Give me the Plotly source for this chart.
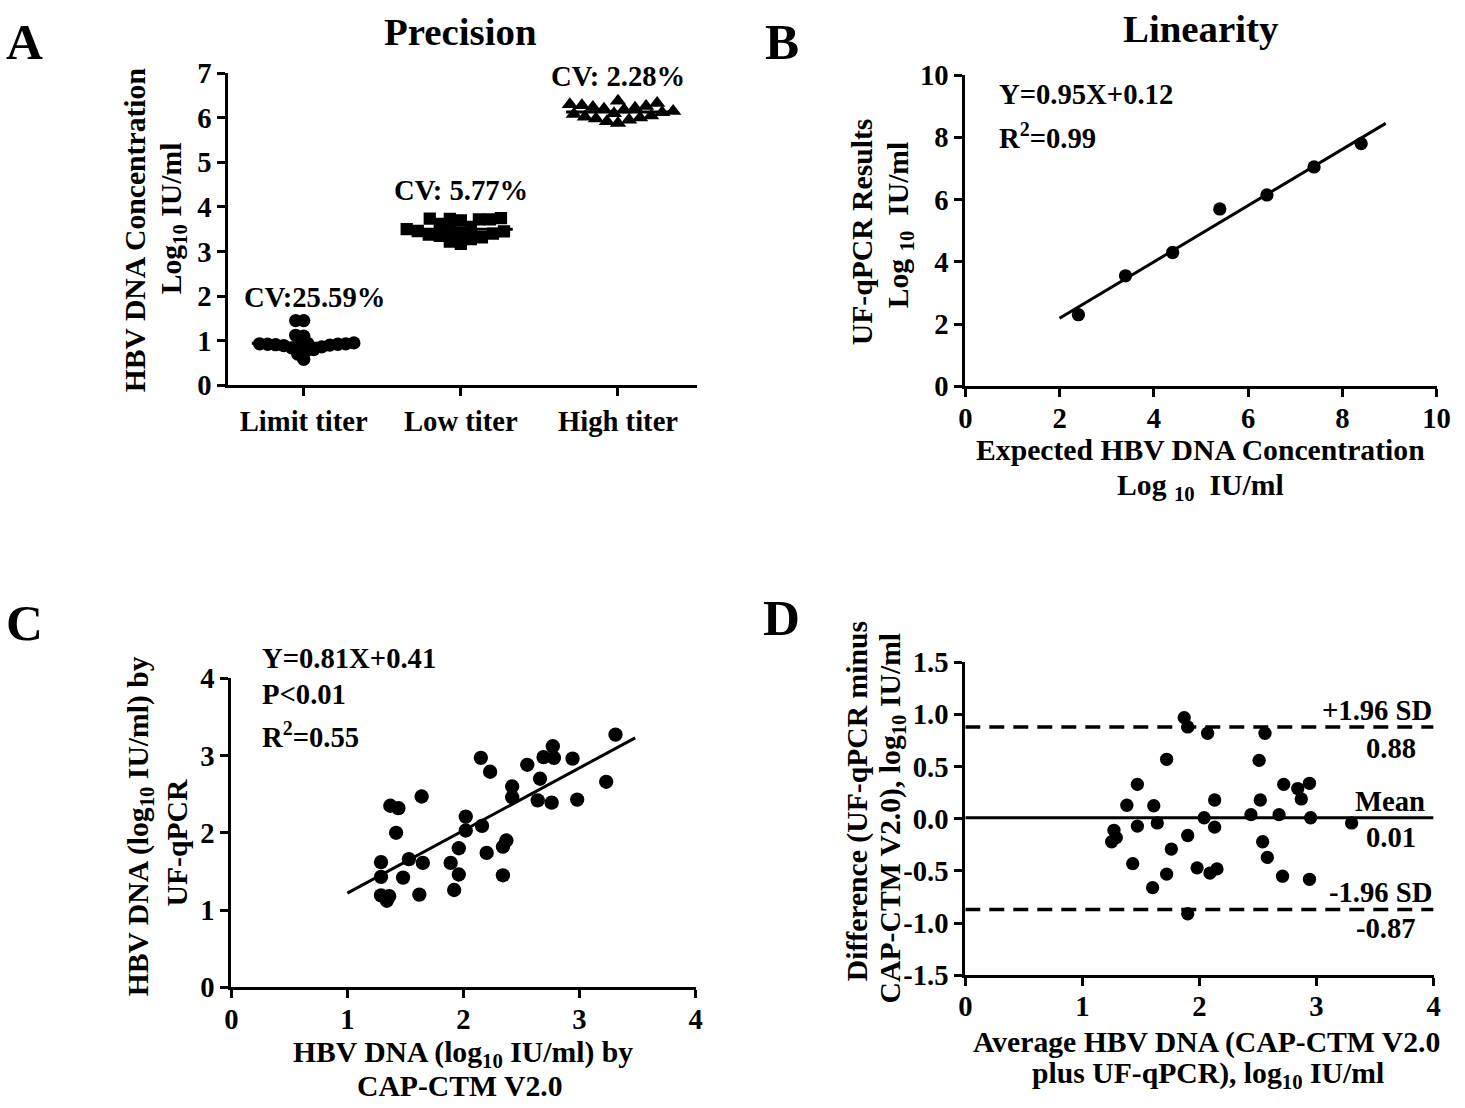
import numpy as np
import plotly.graph_objects as go

W, H = 1465, 1108
FONT = "Liberation Serif"
# measured mapping of the page into the final picture (picture = T + S * page)
TX, TY = 7.3, 15.8
SX, SY = 0.983, 0.971
K = 1 / 0.977  # size compensation for text/markers

# ---------------- Data ----------------
# Panel A: precision
categories = ["Limit titer", "Low titer", "High titer"]
limit_titer = [1.45, 1.45, 1.12, 1.10, 0.95, 0.94, 0.93, 0.93, 0.92, 0.92,
               0.91, 0.90, 0.89, 0.88, 0.86, 0.84, 0.80, 0.76, 0.70, 0.58]
low_titer = [3.75, 3.74, 3.73, 3.72, 3.72, 3.70, 3.62, 3.55, 3.50, 3.48,
             3.46, 3.45, 3.43, 3.40, 3.38, 3.35, 3.32, 3.28, 3.22, 3.17]
high_titer = [6.38, 6.33, 6.30, 6.28, 6.26, 6.24, 6.22, 6.20, 6.18, 6.15,
              6.12, 6.10, 6.08, 6.05, 6.02, 6.00, 5.98, 5.95, 5.92, 5.88]
cv_labels = ["CV:25.59%", "CV: 5.77%", "CV: 2.28%"]

# Panel B: linearity
expected_conc = [2.4, 3.4, 4.4, 5.4, 6.4, 7.4, 8.4]
ufqpcr_result = [2.30, 3.55, 4.30, 5.70, 6.15, 7.05, 7.80]
lin_eq = "Y=0.95X+0.12"
lin_r2 = "0.99"

# Panel C: correlation
cap_ctm = [3.31, 3.23, 2.77, 2.69, 2.78, 2.94, 2.55, 2.66, 2.64, 2.76, 2.98, 2.42, 2.42,
           2.15, 2.23, 1.64, 1.37, 1.44, 1.42, 2.02, 2.02, 2.16, 2.37, 2.34, 1.96, 2.20,
           2.34, 1.96, 1.89, 1.92, 1.53, 1.65, 1.29, 1.29, 1.48, 1.62, 1.29, 1.36, 1.34]
uf_qpcr = [3.27, 2.66, 3.12, 2.98, 2.97, 2.96, 2.88, 2.70, 2.42, 2.39, 2.43, 2.60, 2.46,
           2.97, 2.79, 2.47, 2.35, 2.32, 2.00, 2.21, 2.03, 2.09, 1.90, 1.82, 1.80, 1.74,
           1.45, 1.46, 1.61, 1.26, 1.66, 1.61, 1.62, 1.43, 1.42, 1.20, 1.19, 1.18, 1.12]
corr_slope, corr_intercept = 0.81, 0.41
corr_xrange = [1.0, 3.48]

# Panel D: Bland-Altman
ba_average = [1.87, 1.90, 2.07, 2.56, 1.72, 2.51, 1.47, 2.72, 2.94, 2.84, 2.87, 2.52, 2.13,
              1.38, 1.61, 2.44, 2.68, 2.04, 2.95, 3.30, 1.64, 1.47, 2.13, 1.27, 1.29, 1.25,
              1.90, 2.54, 1.76, 2.58, 1.43, 1.98, 2.09, 2.15, 1.72, 2.71, 2.94, 1.60, 1.90]
ba_difference = [0.97, 0.88, 0.82, 0.82, 0.57, 0.56, 0.33, 0.33, 0.34, 0.29, 0.19, 0.18, 0.18,
                 0.13, 0.125, 0.04, 0.04, 0.01, 0.01, -0.04, -0.04, -0.07, -0.08, -0.11, -0.18,
                 -0.22, -0.16, -0.22, -0.29, -0.37, -0.43, -0.47, -0.52, -0.48, -0.53, -0.55,
                 -0.58, -0.66, -0.91]
ba_mean, ba_upper, ba_lower = 0.01, 0.88, -0.87

# ---------------- Geometry (target picture pixels) ----------------
A_box = dict(x0=228, x1=695, yb=385, yt=73, xr=[-0.48, 2.5], yr=[0, 7])
B_box = dict(x0=963, x1=1433, yb=386, yt=75, xr=[0, 10], yr=[0, 10])
C_box = dict(x0=231, x1=694, yb=987, yt=678, xr=[0, 4], yr=[0, 4])
D_box = dict(x0=963, x1=1430, yb=975, yt=662, xr=[0, 4], yr=[-1.5, 1.5])


def px(x):
    return ((x - TX) / SX) / W


def py(y):
    return 1 - ((y - TY) / SY) / H


def sz(v):
    return v * K


def tfont(size=28):
    return dict(family=FONT, size=sz(size), color="black", weight="bold")


def axis_common():
    return dict(showline=True, linecolor="black", linewidth=3, ticks="outside",
                ticklen=8, tickwidth=3, tickcolor="black", showgrid=False,
                zeroline=False, tickfont=tfont(28), fixedrange=True)


def swarm_offsets(values, px_per_x, px_per_y, dist):
    vals = np.asarray(values, float)
    order = np.argsort(vals, kind="stable")
    placed = []
    offs = np.zeros(len(vals))
    side = 1
    for i in order:
        yp = vals[i] * px_per_y
        best = None
        for step in range(0, 300):
            cands = [0.0] if step == 0 else [side * step, -side * step]
            for c in cands:
                if all((c - qx) ** 2 + (yp - qy) ** 2 >= dist ** 2 for qx, qy in placed):
                    best = c
                    break
            if best is not None:
                break
        placed.append((best, yp))
        offs[i] = best / px_per_x
        side = -side
    return offs


fig = go.Figure()

# ---------------- Panel A ----------------
ax_ppx = (A_box["x1"] - A_box["x0"]) / (A_box["xr"][1] - A_box["xr"][0])
ax_ppy = (A_box["yb"] - A_box["yt"]) / (A_box["yr"][1] - A_box["yr"][0])
groups = [limit_titer, low_titer, high_titer]
symbols = ["circle", "square", "triangle-up"]
msizes = [13, 12, 14]
spread = [8.0, 11.0, 10.5]
for gi, (vals, sym, ms, dd) in enumerate(zip(groups, symbols, msizes, spread)):
    offs = swarm_offsets(vals, ax_ppx, ax_ppy, dd)
    fig.add_trace(go.Scatter(x=gi + offs, y=vals, mode="markers", xaxis="x", yaxis="y",
                             marker=dict(symbol=sym, size=sz(ms), color="black"),
                             showlegend=False, hoverinfo="skip"))
    m = float(np.mean(vals))
    fig.add_trace(go.Scatter(x=[gi - 0.33, gi + 0.33], y=[m, m], mode="lines",
                             xaxis="x", yaxis="y", line=dict(color="black", width=3),
                             showlegend=False, hoverinfo="skip"))

# ---------------- Panel B ----------------
bslope, bint = np.polyfit(expected_conc, ufqpcr_result, 1)
bx = np.array([2.0, 8.92])
fig.add_trace(go.Scatter(x=bx, y=bslope * bx + bint, mode="lines", xaxis="x2", yaxis="y2",
                         line=dict(color="black", width=3), showlegend=False, hoverinfo="skip"))
fig.add_trace(go.Scatter(x=expected_conc, y=ufqpcr_result, mode="markers", xaxis="x2", yaxis="y2",
                         marker=dict(size=sz(13), color="black"), showlegend=False, hoverinfo="skip"))

# ---------------- Panel C ----------------
cx = np.array(corr_xrange)
fig.add_trace(go.Scatter(x=cx, y=corr_slope * cx + corr_intercept, mode="lines", xaxis="x3", yaxis="y3",
                         line=dict(color="black", width=3), showlegend=False, hoverinfo="skip"))
fig.add_trace(go.Scatter(x=cap_ctm, y=uf_qpcr, mode="markers", xaxis="x3", yaxis="y3",
                         marker=dict(size=sz(14), color="black"), showlegend=False, hoverinfo="skip"))

# ---------------- Panel D ----------------
dx = D_box["xr"]
fig.add_trace(go.Scatter(x=dx, y=[ba_mean, ba_mean], mode="lines", xaxis="x4", yaxis="y4",
                         line=dict(color="black", width=3), showlegend=False, hoverinfo="skip"))
for lv in (ba_upper, ba_lower):
    fig.add_trace(go.Scatter(x=dx, y=[lv, lv], mode="lines", xaxis="x4", yaxis="y4",
                             line=dict(color="black", width=3.5, dash="15px,9px"),
                             showlegend=False, hoverinfo="skip"))
fig.add_trace(go.Scatter(x=ba_average, y=ba_difference, mode="markers", xaxis="x4", yaxis="y4",
                         marker=dict(size=sz(13), color="black"), showlegend=False, hoverinfo="skip"))


# ---------------- Axes ----------------
def set_axes(xname, yname, box, xextra, yextra):
    xa = axis_common()
    xa.update(domain=[px(box["x0"]), px(box["x1"])], range=box["xr"], anchor=yname.replace("axis", ""))
    xa.update(xextra)
    ya = axis_common()
    ya.update(domain=[py(box["yb"]), py(box["yt"])], range=box["yr"], anchor=xname.replace("axis", ""))
    ya.update(yextra)
    fig.update_layout({xname: xa, yname: ya})


set_axes("xaxis", "yaxis", A_box,
         dict(tickvals=[0, 1, 2], ticktext=categories),
         dict(tickvals=list(range(0, 8))))
set_axes("xaxis2", "yaxis2", B_box,
         dict(tickvals=[0, 2, 4, 6, 8, 10], ticklabelstandoff=-4),
         dict(tickvals=[0, 2, 4, 6, 8, 10]))
set_axes("xaxis3", "yaxis3", C_box,
         dict(tickvals=[0, 1, 2, 3, 4], ticklabelstandoff=-4),
         dict(tickvals=[0, 1, 2, 3, 4]))
d_ticks = [-1.5, -1.0, -0.5, 0.0, 0.5, 1.0, 1.5]
set_axes("xaxis4", "yaxis4", D_box,
         dict(tickvals=[0, 1, 2, 3, 4], ticklabelstandoff=-5),
         dict(tickvals=d_ticks, ticktext=[("%.1f" % v) for v in d_ticks]))

# ---------------- Text ----------------
anns = []


def ann(text, x, y, size=28, xanchor="center", yanchor="middle", angle=0):
    anns.append(dict(text=text, x=px(x), y=py(y), xref="paper", yref="paper",
                     xanchor=xanchor, yanchor=yanchor, textangle=angle, showarrow=False,
                     font=tfont(size)))


# panel letters and titles
ann("A", 25, 41, size=50)
ann("B", 780, 41, size=50)
ann("C", 25, 622, size=50)
ann("D", 780, 617, size=50)
ann("Precision", 460, 31, size=38)
ann("Linearity", 1198, 28, size=38)

# Panel A texts
ann(cv_labels[0], 314, 297)
ann(cv_labels[1], 460, 190)
ann(cv_labels[2], 617, 76)
ann("HBV DNA Concentration", 135, 230, size=29, angle=-90)
ann("Log<sub>10</sub> IU/ml", 173, 218, size=29, angle=-90)

# Panel B texts
ann(lin_eq, 995, 94, xanchor="left")
ann("R<sup>2</sup>=" + lin_r2, 995, 136, xanchor="left")
ann("UF-qPCR Results", 860, 232, size=29, angle=-90)
ann("Log <sub>10</sub>&nbsp;&nbsp;IU/ml", 898, 225, size=29, angle=-90)
ann("Expected HBV DNA Concentration", 1198, 450, size=29)
ann("Log <sub>10</sub>&nbsp;&nbsp;IU/ml", 1198, 487, size=29)

# Panel C texts
ann("Y=%.2fX+%.2f" % (corr_slope, corr_intercept), 260, 658, xanchor="left")
ann("P&lt;0.01", 260, 694, xanchor="left")
ann("R<sup>2</sup>=0.55", 260, 735, xanchor="left")
ann("HBV DNA (log<sub>10</sub> IU/ml) by", 140, 826, size=29, angle=-90)
ann("UF-qPCR", 177, 843, size=29, angle=-90)
ann("HBV DNA (log<sub>10</sub> IU/ml) by", 462, 1054, size=29)
ann("CAP-CTM V2.0", 459, 1086, size=29)

# Panel D texts
ann("+1.96 SD", 1430, 710, xanchor="right")
ann("%.2f" % ba_upper, 1414, 748, xanchor="right")
ann("Mean", 1423, 801, xanchor="right")
ann("%.2f" % ba_mean, 1414, 837, xanchor="right")
ann("-1.96 SD", 1430, 892, xanchor="right")
ann("%.2f" % ba_lower, 1414, 928, xanchor="right")
ann("Difference (UF-qPCR minus", 855, 801, size=29, angle=-90)
ann("CAP-CTM V2.0), log<sub>10</sub> IU/ml", 890, 818, size=29, angle=-90)
ann("Average HBV DNA (CAP-CTM V2.0", 1204, 1042, size=29)
ann("plus UF-qPCR), log<sub>10</sub> IU/ml", 1205, 1075, size=29)

fig.update_layout(width=W, height=H, margin=dict(l=0, r=0, t=0, b=0),
                  paper_bgcolor="white", plot_bgcolor="white", showlegend=False,
                  annotations=anns, font=dict(family=FONT, color="black"))

fig.write_html("out.html", config={"displayModeBar": False},
               post_script="document.body.style.margin='0';")
